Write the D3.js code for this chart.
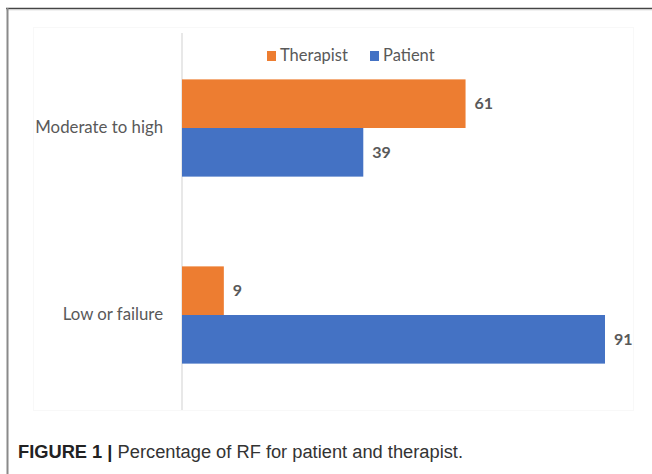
<!DOCTYPE html>
<html>
<head>
<meta charset="utf-8">
<script src="https://cdn.jsdelivr.net/npm/d3@7"></script>
<style>
  html, body { margin: 0; padding: 0; background: #fff; }
  svg { display: block; }
</style>
</head>
<body>
<svg id="chart" width="652" height="474"></svg>
<script>
const categories = ["Moderate to high", "Low or failure"];
const seriesNames = ["Therapist", "Patient"];
const therapistValues = [61, 9];
const patientValues = [39, 91];
const seriesColors = ["#ED7D31", "#4472C4"];
const captionBold = "FIGURE 1 |";
const captionText = " Percentage of RF for patient and therapist.";

const rows = categories.map((c, i) => ({
  category: c,
  values: [
    { series: seriesNames[0], value: therapistValues[i] },
    { series: seriesNames[1], value: patientValues[i] }
  ]
}));

const svg = d3.select("#chart");
const W = 652, H = 474;

// frame
svg.append("rect").attr("x", 0).attr("y", 0).attr("width", W).attr("height", H).attr("fill", "#fff");
svg.append("line").attr("x1", 6).attr("x2", W).attr("y1", 8.5).attr("y2", 8.5)
  .attr("stroke", "#444").attr("stroke-width", 1.6);
svg.append("line").attr("x1", 6).attr("x2", W).attr("y1", 9.8).attr("y2", 9.8)
  .attr("stroke", "#cfcfcf").attr("stroke-width", 1);
svg.append("line").attr("x1", 7.5).attr("x2", 7.5).attr("y1", 8).attr("y2", H)
  .attr("stroke", "#8a8a8a").attr("stroke-width", 2);

// faint chart area
svg.append("rect").attr("x", 33.5).attr("y", 27.5).attr("width", 600).attr("height", 383)
  .attr("fill", "none").attr("stroke", "#f8f8f8").attr("stroke-width", 1);

const x = d3.scaleLinear().domain([0, 91]).range([182, 605]);
const y = d3.scaleBand().domain(categories).range([34.5, 408.5])
  .paddingInner(0.48).paddingOuter(0.24);
const ySub = d3.scaleBand().domain(seriesNames).range([0, y.bandwidth()]);
const color = d3.scaleOrdinal().domain(seriesNames).range(seriesColors);

// axis
const yAxis = d3.axisLeft(y).tickSize(0).tickPadding(19);
const gAxis = svg.append("g").attr("transform", `translate(${x(0)},0)`).call(yAxis);
gAxis.select(".domain").attr("stroke", "#d9d9d9").attr("stroke-width", 1.2)
  .attr("d", `M0,33V410`);
gAxis.selectAll(".tick text")
  .attr("font-family", "Lato, 'Open Sans', sans-serif")
  .attr("font-size", 16.8)
  .attr("fill", "#595959");

// bars
const groups = svg.append("g").selectAll("g").data(rows).join("g")
  .attr("transform", d => `translate(0,${y(d.category)})`);
groups.selectAll("rect").data(d => d.values).join("rect")
  .attr("x", x(0))
  .attr("y", d => ySub(d.series))
  .attr("width", d => x(d.value) - x(0))
  .attr("height", ySub.bandwidth())
  .attr("fill", d => color(d.series));
groups.selectAll("text").data(d => d.values).join("text")
  .attr("x", d => x(d.value) + 9)
  .attr("y", d => ySub(d.series) + ySub.bandwidth() / 2)
  .attr("dy", "0.36em")
  .attr("font-family", "Lato, 'Open Sans', sans-serif")
  .attr("font-weight", "bold")
  .attr("font-size", 16)
  .attr("fill", "#595959")
  .text(d => d.value);

// legend
const legend = svg.append("g");
const legX = [267, 370];
seriesNames.forEach((s, i) => {
  legend.append("rect").attr("x", legX[i]).attr("y", 51).attr("width", 9).attr("height", 10)
    .attr("fill", color(s));
  legend.append("text").attr("x", legX[i] + 13).attr("y", 61)
    .attr("font-family", "Lato, 'Open Sans', sans-serif")
    .attr("font-size", 16.5)
    .attr("fill", "#595959")
    .text(s);
});

// caption
const cap = svg.append("text").attr("x", 18).attr("y", 458)
  .attr("font-family", "'Liberation Sans', Arial, sans-serif")
  .attr("font-size", 18)
  .attr("fill", "#222")
  .attr("textLength", 445)
  .attr("lengthAdjust", "spacingAndGlyphs");
cap.append("tspan").attr("font-weight", "bold").text(captionBold);
cap.append("tspan").attr("fill", "#333").text(captionText);
</script>
</body>
</html>
